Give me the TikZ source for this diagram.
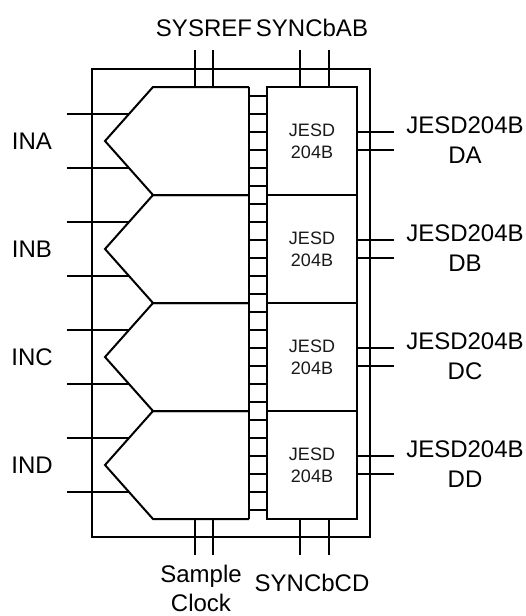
\documentclass[tikz,border=0pt]{standalone}
\usepackage{fontspec}
\setmainfont{Liberation Sans}
\tikzset{
  wire/.style={draw=black,line width=2pt,line cap=butt,line join=miter},
  lbl/.style={inner sep=0pt,align=center,font=\fontsize{24}{29.5}\selectfont,text=black},
  jesdtext/.style={inner sep=0pt,align=center,font=\fontsize{18}{22}\selectfont,text=black!90},
  jesdbox/.style={wire,minimum width=90pt,minimum height=108pt,inner sep=0pt,outer sep=0pt},
}
\begin{document}
\begin{tikzpicture}[x=1pt,y=-1pt]
\useasboundingbox (0,0) rectangle (525,616);
\draw[wire] (92,69) rectangle (370,537);
% ADC pentagons and inputs
\foreach \n/\t in {a/87,b/195,c/303,d/411}{
  \coordinate (adc\n tl) at (153,\t);
  \coordinate (adc\n tr) at (249,\t);
  \coordinate (adc\n ap) at (105,\t+54);
  \coordinate (adc\n bl) at (153,\t+108);
  \coordinate (adc\n br) at (249,\t+108);
  \draw[wire] (adc\n br) -- (adc\n bl) -- (adc\n ap) -- (adc\n tl) -- (adc\n tr);
  \coordinate (in\n p) at (67,\t+27);
  \coordinate (in\n pe) at (129,\t+27);
  \coordinate (in\n m) at (67,\t+81);
  \coordinate (in\n me) at (129,\t+81);
  \draw[wire] (in\n p) -- (in\n pe);
  \draw[wire] (in\n m) -- (in\n me);
  \node[jesdbox,anchor=north west] (j\n) at (267,\t) {};
  \node[jesdtext] at (j\n.center) {JESD\\204B};
  \coordinate (out\n p) at (394,\t+45);
  \coordinate (out\n m) at (394,\t+63);
  \draw[wire] (j\n.east |- out\n p) -- (out\n p);
  \draw[wire] (j\n.east |- out\n m) -- (out\n m);
}
% bus
\coordinate (adctop) at (249,87);
\coordinate (adcbot) at (249,519);
\draw[wire] (adctop) -- (adcbot);
\foreach \k in {0,...,23}{
  \coordinate (r\k l) at (249,96+18*\k);
  \coordinate (r\k r) at (267,96+18*\k);
  \draw[wire] (r\k l) -- (r\k r);
}
% top and bottom pins
\foreach \x in {195,213,300,329}{
  \coordinate (tp\x) at (\x,50);
  \coordinate (te\x) at (\x,87);
  \coordinate (bp\x) at (\x,555);
  \coordinate (be\x) at (\x,519);
  \draw[wire] (tp\x) -- (te\x);
  \draw[wire] (bp\x) -- (be\x);
}
% labels
\node[lbl] (sysref) at (204,28) {SYSREF};
\node[lbl] (syncab) at (312,28) {SYNCbAB};
\node[lbl] (ina) at (32,141) {INA};
\node[lbl] (inb) at (32,249) {INB};
\node[lbl] (inc) at (32,357) {INC};
\node[lbl] (ind) at (32,465) {IND};
\node[lbl] (da) at (465,140) {JESD204B\\DA};
\node[lbl] (db) at (465,248) {JESD204B\\DB};
\node[lbl] (dc) at (465,356) {JESD204B\\DC};
\node[lbl] (dd) at (465,464) {JESD204B\\DD};
\node[lbl] (clk) at (201,588.5) {Sample\\Clock};
\node[lbl] (syncd) at (312,583) {SYNCbCD};
\end{tikzpicture}
\end{document}
